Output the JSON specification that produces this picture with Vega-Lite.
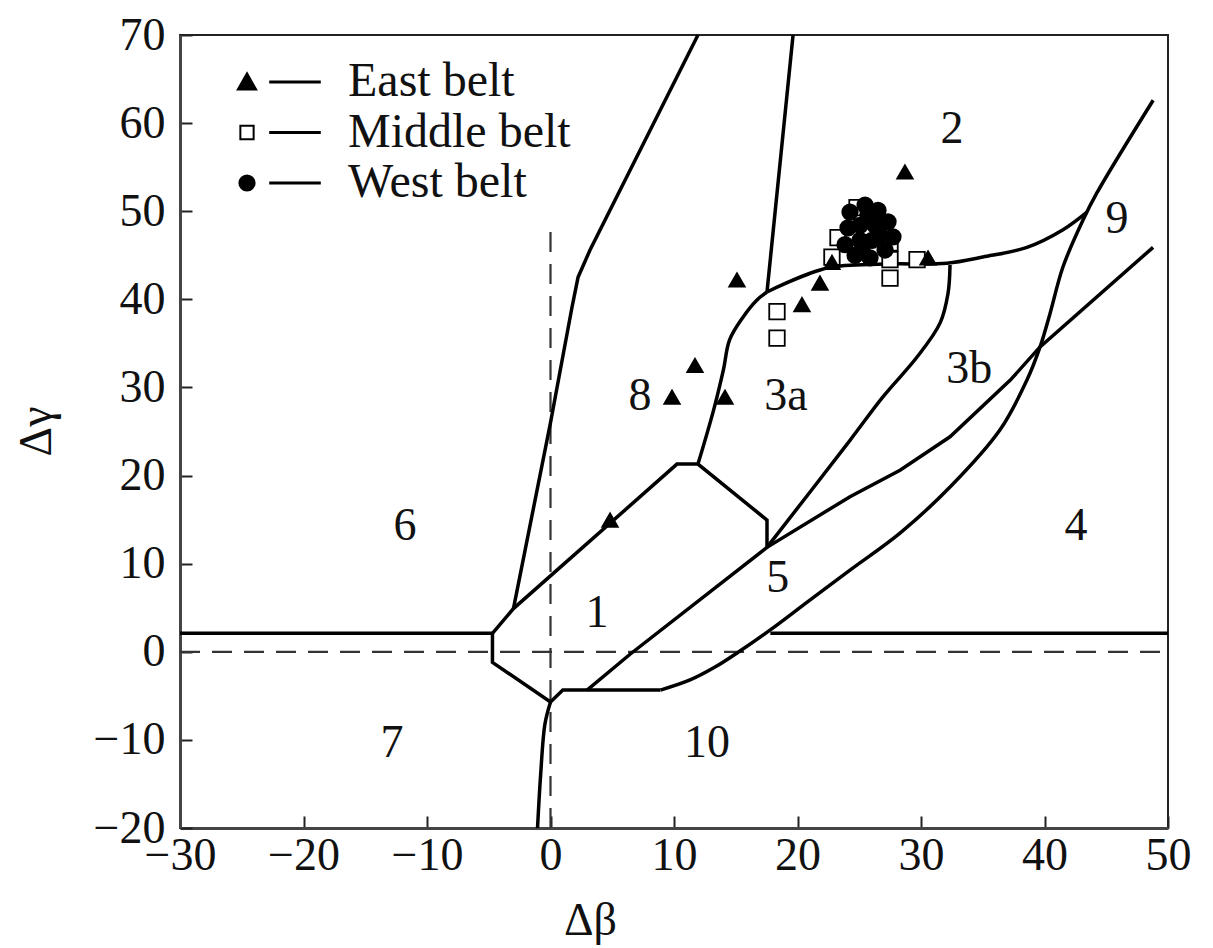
{
  "$schema": "https://vega.github.io/schema/vega-lite/v6.json",
  "width": 988,
  "height": 793,
  "autosize": "none",
  "padding": {"left": 180, "top": 35, "right": 45, "bottom": 120},
  "background": "white",
  "config": {
    "view": {"stroke": "#222", "strokeWidth": 2},
    "font": "Liberation Serif",
    "axis": {
      "grid": false,
      "domainColor": "#444",
      "domainWidth": 3,
      "tickColor": "#222",
      "tickWidth": 2,
      "tickSize": -12,
      "labelFont": "Liberation Serif",
      "labelFontSize": 46,
      "labelColor": "#111",
      "titleFont": "Liberation Serif",
      "titleFontSize": 46,
      "titleFontWeight": "normal",
      "titleColor": "#111"
    }
  },
  "datasets": {
    "poly": [
      {"s": "P1", "i": 0, "x": -30, "y": 2.1},
      {"s": "P1", "i": 1, "x": -4.7, "y": 2.1},
      {"s": "P1", "i": 2, "x": -4.7, "y": -1.2},
      {"s": "P1", "i": 3, "x": 0, "y": -5.7},
      {"s": "P1", "i": 4, "x": 1.0, "y": -4.35},
      {"s": "P1", "i": 5, "x": 8.9, "y": -4.35},
      {"s": "P2", "i": 0, "x": 17.8, "y": 2.1},
      {"s": "P2", "i": 1, "x": 50, "y": 2.1},
      {"s": "P3", "i": 0, "x": -4.7, "y": 2.1},
      {"s": "P3", "i": 1, "x": -3.0, "y": 4.9},
      {"s": "P3", "i": 2, "x": 10.24, "y": 21.3},
      {"s": "P3", "i": 3, "x": 11.94, "y": 21.3},
      {"s": "P3", "i": 4, "x": 17.53, "y": 14.95},
      {"s": "P3", "i": 5, "x": 17.53, "y": 11.85},
      {"s": "P4", "i": 0, "x": 17.53, "y": 40.83},
      {"s": "P4", "i": 1, "x": 19.64, "y": 70},
      {"s": "P5", "i": 0, "x": -3.0, "y": 4.9},
      {"s": "P5", "i": 1, "x": 0, "y": 26.0},
      {"s": "P5", "i": 2, "x": 1.74, "y": 39.1},
      {"s": "P5", "i": 3, "x": 2.23, "y": 42.5},
      {"s": "P5", "i": 4, "x": 3.2, "y": 45.6},
      {"s": "P5", "i": 5, "x": 11.94, "y": 70},
      {"s": "P6", "i": 0, "x": 2.96, "y": -4.35},
      {"s": "P6", "i": 1, "x": 6.44, "y": -0.28},
      {"s": "P6", "i": 2, "x": 17.53, "y": 11.85},
      {"s": "P6", "i": 3, "x": 24.25, "y": 17.6},
      {"s": "P6", "i": 4, "x": 28.3, "y": 20.6},
      {"s": "P6", "i": 5, "x": 32.35, "y": 24.4},
      {"s": "P6", "i": 6, "x": 37.21, "y": 30.8},
      {"s": "P6", "i": 7, "x": 39.64, "y": 34.6},
      {"s": "P6", "i": 8, "x": 48.79, "y": 45.9}
    ],
    "curve": [
      {"s": "C1", "i": 0, "x": 8.9, "y": -4.35},
      {"s": "C1", "i": 1, "x": 11.3, "y": -3.2},
      {"s": "C1", "i": 2, "x": 13.32, "y": -1.74},
      {"s": "C1", "i": 3, "x": 15.34, "y": 0.08},
      {"s": "C1", "i": 4, "x": 17.77, "y": 2.46},
      {"s": "C1", "i": 5, "x": 21.0, "y": 5.87},
      {"s": "C1", "i": 6, "x": 24.25, "y": 9.27},
      {"s": "C1", "i": 7, "x": 28.3, "y": 13.47},
      {"s": "C1", "i": 8, "x": 32.35, "y": 18.7},
      {"s": "C1", "i": 9, "x": 36.4, "y": 25.2},
      {"s": "C1", "i": 10, "x": 38.58, "y": 30.84},
      {"s": "C1", "i": 11, "x": 39.64, "y": 34.6},
      {"s": "C1", "i": 12, "x": 40.45, "y": 38.4},
      {"s": "C1", "i": 13, "x": 41.5, "y": 43.7},
      {"s": "C1", "i": 14, "x": 43.12, "y": 49.0},
      {"s": "C1", "i": 15, "x": 44.25, "y": 52.1},
      {"s": "C1", "i": 16, "x": 48.8, "y": 62.6},
      {"s": "C2", "i": 0, "x": 0, "y": -5.7},
      {"s": "C2", "i": 1, "x": -0.45, "y": -8.2},
      {"s": "C2", "i": 2, "x": -0.8, "y": -14},
      {"s": "C2", "i": 3, "x": -1.05, "y": -20},
      {"s": "C3", "i": 0, "x": 17.53, "y": 11.85},
      {"s": "C3", "i": 1, "x": 24.25, "y": 24.0},
      {"s": "C3", "i": 2, "x": 26.9, "y": 28.9},
      {"s": "C3", "i": 3, "x": 29.68, "y": 33.45},
      {"s": "C3", "i": 4, "x": 31.54, "y": 37.3},
      {"s": "C3", "i": 5, "x": 32.19, "y": 40.7},
      {"s": "C3", "i": 6, "x": 32.35, "y": 43.9},
      {"s": "C4", "i": 0, "x": 11.94, "y": 21.3},
      {"s": "C4", "i": 1, "x": 13.2, "y": 27.4},
      {"s": "C4", "i": 2, "x": 14.0, "y": 32.0},
      {"s": "C4", "i": 3, "x": 14.5, "y": 35.4},
      {"s": "C4", "i": 4, "x": 15.6, "y": 38.0},
      {"s": "C4", "i": 5, "x": 16.7, "y": 39.9},
      {"s": "C4", "i": 6, "x": 17.53, "y": 40.83},
      {"s": "C5", "i": 0, "x": 17.53, "y": 40.83},
      {"s": "C5", "i": 1, "x": 22.4, "y": 43.55},
      {"s": "C5", "i": 2, "x": 27.0, "y": 44.0},
      {"s": "C5", "i": 3, "x": 32.1, "y": 44.1},
      {"s": "C5", "i": 4, "x": 35.0, "y": 44.8},
      {"s": "C5", "i": 5, "x": 38.58, "y": 45.9},
      {"s": "C5", "i": 6, "x": 41.5, "y": 47.9},
      {"s": "C5", "i": 7, "x": 43.44, "y": 49.9}
    ],
    "dash": [
      {"s": "V", "i": 0, "x": 0, "y": -20},
      {"s": "V", "i": 1, "x": 0, "y": 48.8},
      {"s": "H", "i": 0, "x": -30, "y": 0},
      {"s": "H", "i": 1, "x": 50, "y": 0}
    ],
    "pts": [
      {"belt": "Middle belt", "x": 24.82, "y": 50.4},
      {"belt": "Middle belt", "x": 23.28, "y": 47.0},
      {"belt": "Middle belt", "x": 22.79, "y": 44.8},
      {"belt": "Middle belt", "x": 27.49, "y": 44.5},
      {"belt": "Middle belt", "x": 27.49, "y": 42.4},
      {"belt": "Middle belt", "x": 29.68, "y": 44.5},
      {"belt": "Middle belt", "x": 27.49, "y": 46.4},
      {"belt": "Middle belt", "x": 18.34, "y": 38.6},
      {"belt": "Middle belt", "x": 18.34, "y": 35.6},
      {"belt": "West belt", "x": 24.25, "y": 49.9},
      {"belt": "West belt", "x": 25.47, "y": 50.7},
      {"belt": "West belt", "x": 26.52, "y": 50.1},
      {"belt": "West belt", "x": 27.33, "y": 48.8},
      {"belt": "West belt", "x": 27.73, "y": 47.1},
      {"belt": "West belt", "x": 27.09, "y": 45.6},
      {"belt": "West belt", "x": 25.87, "y": 44.7},
      {"belt": "West belt", "x": 24.66, "y": 45.0},
      {"belt": "West belt", "x": 23.85, "y": 46.2},
      {"belt": "West belt", "x": 24.09, "y": 48.1},
      {"belt": "West belt", "x": 25.06, "y": 48.4},
      {"belt": "West belt", "x": 26.28, "y": 48.4},
      {"belt": "West belt", "x": 26.03, "y": 46.7},
      {"belt": "West belt", "x": 25.06, "y": 46.7},
      {"belt": "West belt", "x": 26.68, "y": 47.3},
      {"belt": "West belt", "x": 25.22, "y": 45.6},
      {"belt": "West belt", "x": 25.71, "y": 49.6},
      {"belt": "East belt", "x": 4.82, "y": 14.95},
      {"belt": "East belt", "x": 9.84, "y": 28.9},
      {"belt": "East belt", "x": 14.13, "y": 28.9},
      {"belt": "East belt", "x": 11.7, "y": 32.5},
      {"belt": "East belt", "x": 15.1, "y": 42.2},
      {"belt": "East belt", "x": 20.36, "y": 39.4},
      {"belt": "East belt", "x": 21.82, "y": 41.85},
      {"belt": "East belt", "x": 28.7, "y": 54.45},
      {"belt": "East belt", "x": 30.57, "y": 44.7},
      {"belt": "East belt", "x": 22.79, "y": 44.2}
    ],
    "labels": [
      {"lab": "2", "x": 32.5, "y": 57.74},
      {"lab": "9", "x": 45.87, "y": 47.5},
      {"lab": "3b", "x": 33.9, "y": 30.5},
      {"lab": "3a", "x": 19.07, "y": 27.4},
      {"lab": "8", "x": 7.25, "y": 27.4},
      {"lab": "5", "x": 18.4, "y": 6.78},
      {"lab": "1", "x": 3.77, "y": 2.8},
      {"lab": "10", "x": 12.67, "y": -11.95},
      {"lab": "4", "x": 42.55, "y": 12.68},
      {"lab": "6", "x": -11.78, "y": 12.68},
      {"lab": "7", "x": -12.83, "y": -11.95}
    ]
  },
  "encoding": {
    "x": {
      "field": "x",
      "type": "quantitative",
      "scale": {"domain": [-30, 50], "nice": false, "zero": false},
      "axis": {
        "title": "Δβ",
        "values": [-30, -20, -10, 0, 10, 20, 30, 40, 50],
        "labelFlush": false,
        "labelOverlap": false,
        "labelPadding": 17,
        "titleX": 410,
        "titleY": 92,
        "titleBaseline": "middle"
      }
    },
    "y": {
      "field": "y",
      "type": "quantitative",
      "scale": {"domain": [-20, 70], "nice": false, "zero": false},
      "axis": {
        "title": "Δγ",
        "values": [-20, -10, 0, 10, 20, 30, 40, 50, 60, 70],
        "labelOverlap": false,
        "labelPadding": 27,
        "titleX": -144,
        "titleY": 396,
        "titleAngle": 270,
        "titleBaseline": "middle"
      }
    }
  },
  "layer": [
    {
      "data": {"name": "dash"},
      "mark": {"type": "line", "color": "#333", "strokeWidth": 2.2, "strokeDash": [20, 12]},
      "encoding": {
        "detail": {"field": "s"},
        "order": {"field": "i", "type": "quantitative"}
      }
    },
    {
      "data": {"name": "poly"},
      "mark": {"type": "line", "color": "black", "strokeWidth": 3.5, "interpolate": "linear"},
      "encoding": {
        "detail": {"field": "s"},
        "order": {"field": "i", "type": "quantitative"}
      }
    },
    {
      "data": {"name": "curve"},
      "mark": {"type": "line", "color": "black", "strokeWidth": 3.5, "interpolate": "catmull-rom"},
      "encoding": {
        "detail": {"field": "s"},
        "order": {"field": "i", "type": "quantitative"}
      }
    },
    {
      "data": {"name": "pts"},
      "mark": {"type": "point", "filled": true, "stroke": "black", "strokeWidth": 1.8, "opacity": 1, "size": 240},
      "encoding": {
        "shape": {
          "condition": [
            {"test": "datum.belt === 'East belt'", "value": "triangle-up"},
            {"test": "datum.belt === 'Middle belt'", "value": "square"}
          ],
          "value": "circle"
        },
        "fill": {
          "field": "belt",
          "type": "nominal",
          "scale": {"domain": ["East belt", "Middle belt", "West belt"], "range": ["black", "white", "black"]},
          "legend": {
            "title": null,
            "orient": "none",
            "legendX": 43,
            "legendY": 23,
            "symbolSize": 256,
            "symbolStrokeWidth": 2,
            "symbolStrokeColor": "black",
            "labelFont": "Liberation Serif",
            "labelFontSize": 48,
            "labelColor": "#111",
            "labelLimit": 0,
            "labelOffset": 77,
            "rowPadding": 2.5,
            "padding": 0,
            "encoding": {
              "symbols": {
                "shape": {
                  "condition": [
                    {"test": "datum.value === 'East belt'", "value": "M0,-1.1L1.15,0.95L-1.15,0.95Z M2.9,-0.07L9.1,-0.07L9.1,0.07L2.9,0.07Z"},
                    {"test": "datum.value === 'Middle belt'", "value": "M-0.83,-0.83L0.83,-0.83L0.83,0.83L-0.83,0.83Z M2.9,-0.07L9.1,-0.07L9.1,0.07L2.9,0.07Z"}
                  ],
                  "value": "M-0.95,0A0.95,0.95,0,1,0,0.95,0A0.95,0.95,0,1,0,-0.95,0Z M2.9,-0.07L9.1,-0.07L9.1,0.07L2.9,0.07Z"
                },
                "stroke": {"value": "black"},
                "strokeWidth": {"value": 2},
                "opacity": {"value": 1}
              }
            }
          }
        }
      }
    },
    {
      "data": {"name": "labels"},
      "mark": {"type": "text", "font": "Liberation Serif", "fontSize": 46, "color": "#111", "align": "center", "baseline": "alphabetic"},
      "encoding": {
        "text": {"field": "lab"}
      }
    }
  ]
}
